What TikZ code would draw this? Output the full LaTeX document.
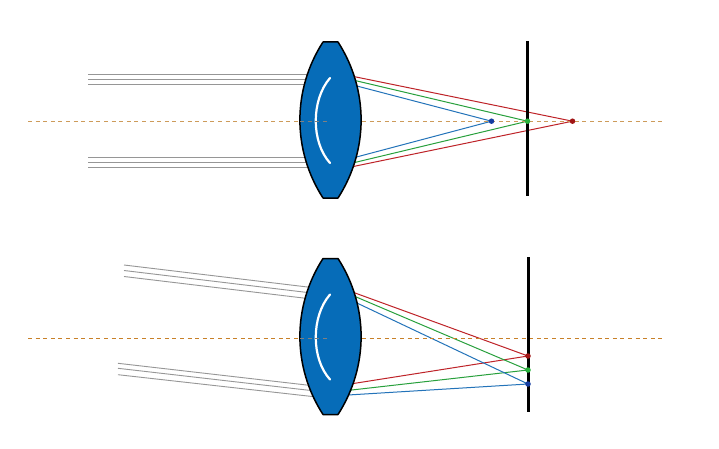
\documentclass[tikz,border=0pt]{standalone}
\begin{document}
\begin{tikzpicture}[x=1pt,y=-1pt,
  lensbody/.style={fill=lensblue,draw=black,line width=1.5pt,line join=round},
  lensmark/.style={draw=white,line width=2.2pt,line cap=round},
  inray/.style={draw=raygray,line width=0.9pt},
  outred/.style={draw=rayred,line width=1pt},
  outgreen/.style={draw=raygreen,line width=1pt},
  outblue/.style={draw=rayblue,line width=1pt},
  screenbar/.style={draw=black,line width=3pt},
  axisupper/.style={draw=axiscolA,line width=1.2pt,dash pattern=on 4pt off 3.6pt},
  axislower/.style={draw=axiscolB,line width=1.1pt,dash pattern=on 4pt off 3.6pt},
  focusdot/.style={circle,inner sep=0pt,minimum size=5.5pt}]
\definecolor{lensblue}{RGB}{6,108,184}
\definecolor{raygray}{RGB}{150,150,150}
\definecolor{rayred}{RGB}{190,35,40}
\definecolor{raygreen}{RGB}{40,160,60}
\definecolor{rayblue}{RGB}{35,115,185}
\definecolor{axiscolA}{RGB}{205,155,90}
\definecolor{axiscolB}{RGB}{200,128,40}
\definecolor{dotblue}{RGB}{20,60,160}
\definecolor{dotgreen}{RGB}{40,180,60}
\definecolor{dotred}{RGB}{160,20,20}
\useasboundingbox (0,0) rectangle (719,449);
\fill[white] (0,0) rectangle (719,449);

% ---------------- top diagram ----------------
\coordinate (TFb) at (491.5,121.2);
\coordinate (TFg) at (527.5,121.2);
\coordinate (TFr) at (572.5,121.2);
% incoming rays
\foreach \yy in {74.5,79.5,84.5,157.5,162.5,167.5}
  \draw[inray] (88,\yy) -- (325,\yy);
% outgoing rays
\coordinate (Tr1) at (335,72.7);  \coordinate (Tr2) at (335,170.3);
\coordinate (Tg1) at (335,75.8);  \coordinate (Tg2) at (335,167.2);
\coordinate (Tb1) at (335,80.3);  \coordinate (Tb2) at (335,162.7);
\draw[outred] (Tr1) -- (TFr) -- (Tr2);
\draw[outgreen] (Tg1) -- (TFg) -- (Tg2);
\draw[outblue] (Tb1) -- (TFb) -- (Tb2);
% axis right part
\draw[axisupper] (362,121.2) -- (662,121.2);
% lens
\path[lensbody] (323,42) -- (338,42) .. controls (368.8,89.7) and (368.8,150.3) .. (338,198)
  -- (323,198) .. controls (292.2,150.3) and (292.2,89.7) .. (323,42) -- cycle;
\draw[lensmark] (330,78) .. controls (311,100) and (311,142) .. (330,163);
% axis left part over lens
\draw[axisupper] (28,121.2) -- (300,121.2);
\draw[axisupper,draw=gray] (300,121.2) -- (329,121.2);
% screen
\draw[screenbar] (527.5,41) -- (527.5,196);
\node[focusdot,fill=dotblue] (fb1) at (TFb) {};
\node[focusdot,fill=dotgreen] (fg1) at (TFg) {};
\node[focusdot,fill=dotred] (fr1) at (TFr) {};

% ---------------- bottom diagram ----------------
\coordinate (BFr) at (528,356);
\coordinate (BFg) at (528,370);
\coordinate (BFb) at (528,384);
% incoming rays
\draw[inray] (124,265) -- (325,289.1);
\draw[inray] (124,270.5) -- (325,294.6);
\draw[inray] (124,276.5) -- (325,300.6);
\draw[inray] (118,363.3) -- (330,387.7);
\draw[inray] (118,368.3) -- (330,392.7);
\draw[inray] (118,374.7) -- (330,398.5);
% outgoing rays
\coordinate (Br1) at (340,287.5); \coordinate (Br2) at (335,386.4);
\coordinate (Bg1) at (340,290.1); \coordinate (Bg2) at (335,391.9);
\coordinate (Bb1) at (340,295.0); \coordinate (Bb2) at (335,395.8);
\draw[outred] (Br1) -- (BFr) -- (Br2);
\draw[outgreen] (Bg1) -- (BFg) -- (Bg2);
\draw[outblue] (Bb1) -- (BFb) -- (Bb2);
% axis right part
\draw[axislower] (362,338.3) -- (662,338.3);
% lens
\begin{scope}[shift={(0,216.5)}]
\path[lensbody] (323,42) -- (338,42) .. controls (368.8,89.7) and (368.8,150.3) .. (338,198)
  -- (323,198) .. controls (292.2,150.3) and (292.2,89.7) .. (323,42) -- cycle;
\draw[lensmark] (330,78) .. controls (311,100) and (311,142) .. (330,163);
\end{scope}
\draw[axislower] (28,338.3) -- (300,338.3);
\draw[axislower,draw=gray] (300,338.3) -- (329,338.3);
% screen
\draw[screenbar] (528,257) -- (528,412);
\node[focusdot,fill=dotred] (fr2) at (BFr) {};
\node[focusdot,fill=dotgreen] (fg2) at (BFg) {};
\node[focusdot,fill=dotblue] (fb2) at (BFb) {};
\end{tikzpicture}
\end{document}
